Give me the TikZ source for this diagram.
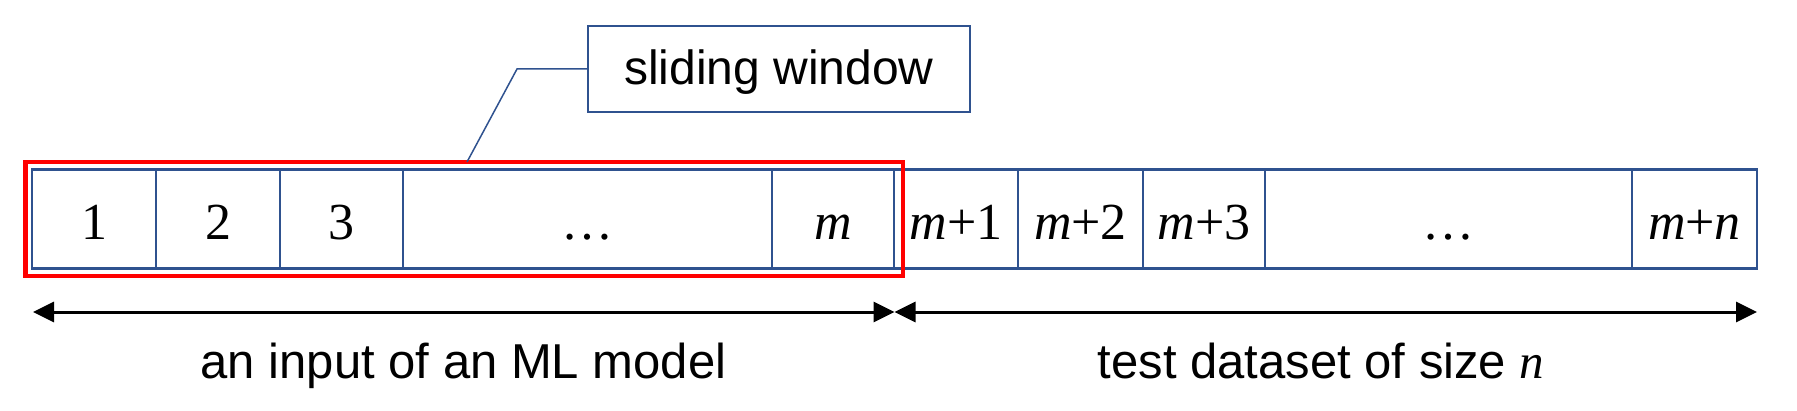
\documentclass[tikz,border=0pt]{standalone}
\usepackage{fontspec}
\setmainfont{Liberation Sans}
\newfontfamily\serifrm{Liberation Serif}
\usetikzlibrary{arrows.meta}
\definecolor{cellblue}{HTML}{2F528F}
\definecolor{winred}{HTML}{FF0000}
\tikzset{
  cell/.style={draw=cellblue, line width=1.2pt, rectangle, inner sep=0pt,
    minimum height=49.5pt, text height=21pt, text depth=0pt,
    font=\serifrm\fontsize{26}{30}\selectfont},
  winbox/.style={draw=winred, line width=2.25pt, rectangle, inner sep=0pt,
    minimum width=438.75pt, minimum height=56.75pt},
  calloutbox/.style={draw=cellblue, line width=0.75pt, rectangle, inner sep=0pt,
    minimum width=191pt, minimum height=43pt, text height=16pt, text depth=0pt,
    font=\fontsize{24}{28}\selectfont},
  leader/.style={draw=cellblue, line width=0.75pt},
  spanarrow/.style={draw=black, line width=1.5pt,
    {Triangle[length=10.5pt,width=10pt]}-{Triangle[length=10.5pt,width=10pt]}},
  spanlabel/.style={anchor=base, inner sep=0pt, font=\fontsize{24.5}{29}\selectfont}
}
\begin{document}
\begin{tikzpicture}[x=0.5pt,y=-0.5pt]
\path[use as bounding box] (0,0) rectangle (1797,411);
% cells
\node[cell, minimum width=62pt]    (c1)  at (94,219)     {1};
\node[cell, minimum width=62pt]    (c2)  at (218,219)    {2};
\node[cell, minimum width=61.5pt]  (c3)  at (341.5,219)  {3};
\node[cell, minimum width=184.5pt] (c4)  at (587.5,219)  {…};
\node[cell, minimum width=61pt]    (c5)  at (833,219)    {\textit{m}};
\node[cell, minimum width=62pt]    (c6)  at (956,219)    {\textit{m}+1};
\node[cell, minimum width=62.5pt]  (c7)  at (1080.5,219) {\textit{m}+2};
\node[cell, minimum width=61pt]    (c8)  at (1204,219)   {\textit{m}+3};
\node[cell, minimum width=183.5pt] (c9)  at (1448.5,219) {…};
\node[cell, minimum width=62.5pt]  (c10) at (1694.5,219) {\textit{m}+\textit{n}};
% sliding window
\node[winbox] (win) at (464,219) {};
\node[calloutbox] (lbl) at (779,69) {sliding window};
\coordinate (lead0) at (467,162);
\coordinate (lead1) at (517,69);
\draw[leader] (lead0) -- (lead1) -- (lbl.west);
% span arrows
\coordinate (a0) at (33,312);
\coordinate (am) at (894.5,312);
\coordinate (a1) at (1757,312);
\draw[spanarrow] (a0) -- (am);
\draw[spanarrow] (am) -- (a1);
\node[spanlabel] (inlbl) at (463.5,378) {an input of an ML model};
\node[spanlabel] (testlbl) at (1321,378) {test dataset of size {\serifrm\itshape n}};
\end{tikzpicture}
\end{document}
